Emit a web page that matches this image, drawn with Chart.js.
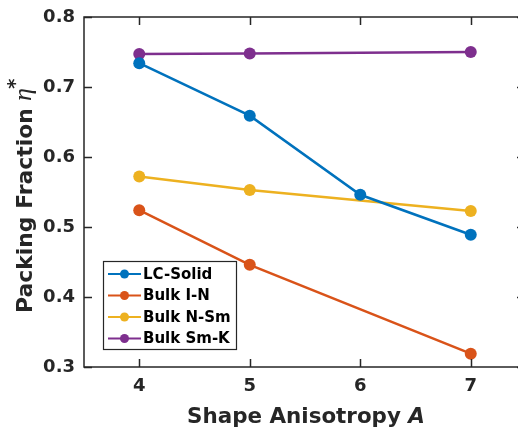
<!DOCTYPE html>
<html>
<head>
<meta charset="utf-8">
<script src="https://cdn.jsdelivr.net/npm/chart.js@4"></script>
<style>
  html, body { margin: 0; padding: 0; background: #fff; overflow: hidden; }
  canvas { display: block; }
</style>
</head>
<body>
<canvas id="packingChart" width="526" height="429"></canvas>
<script>
// values
const seriesNames = ['LC-Solid', 'Bulk I-N', 'Bulk N-Sm', 'Bulk Sm-K'];
const lcSolidX = [4, 5, 6, 7];
const lcSolidY = [0.734, 0.659, 0.546, 0.489];
const bulkINX = [4, 5, 7];
const bulkINY = [0.524, 0.446, 0.319];
const bulkNSmX = [4, 5, 7];
const bulkNSmY = [0.572, 0.553, 0.523];
const bulkSmKX = [4, 5, 7];
const bulkSmKY = [0.747, 0.748, 0.750];
const xTicks = [4, 5, 6, 7];
const yTicks = [0.3, 0.4, 0.5, 0.6, 0.7, 0.8];
const colors = ['#0072BD', '#D95319', '#EDB120', '#7E2F8E'];

const textColor = '#262626';
const sansFont = '"DejaVu Sans"';
const tickFont = { family: 'DejaVu Sans', size: 18, weight: 'bold' };

function toPoints(xs, ys) {
    return xs.map((x, i) => ({ x: x, y: ys[i] }));
}

const seriesData = [
    toPoints(lcSolidX, lcSolidY),
    toPoints(bulkINX, bulkINY),
    toPoints(bulkNSmX, bulkNSmY),
    toPoints(bulkSmKX, bulkSmKY)
];

// pick a font size so the text spans the wanted width
function fitFont(ctx, text, style, width) {
    ctx.font = style + ' 20px ' + sansFont;
    return 20 * width / ctx.measureText(text).width;
}

// box, inward ticks, axis titles and legend
const framePlugin = {
    id: 'frame',
    afterDraw(chart) {
        const ctx = chart.ctx;
        const area = chart.chartArea;
        const xs = chart.scales.x;
        const ys = chart.scales.y;
        ctx.save();
        ctx.strokeStyle = textColor;
        ctx.lineWidth = 1.5;
        ctx.strokeRect(area.left, area.top, area.right - area.left, area.bottom - area.top);
        xTicks.forEach(v => {
            const px = Math.round(xs.getPixelForValue(v)) + 0.5;
            ctx.beginPath();
            ctx.moveTo(px, area.bottom); ctx.lineTo(px, area.bottom - 8);
            ctx.moveTo(px, area.top); ctx.lineTo(px, area.top + 8);
            ctx.stroke();
        });
        yTicks.forEach(v => {
            const py = Math.round(ys.getPixelForValue(v)) + 0.5;
            ctx.beginPath();
            ctx.moveTo(area.left, py); ctx.lineTo(area.left + 8, py);
            ctx.moveTo(area.right, py); ctx.lineTo(area.right - 9, py);
            ctx.stroke();
        });

        // x title
        ctx.fillStyle = textColor;
        ctx.textBaseline = 'alphabetic';
        ctx.textAlign = 'left';
        const xMain = 'Shape Anisotropy ';
        const xSize = fitFont(ctx, xMain + 'A', 'bold', 238);
        ctx.font = 'bold ' + xSize + 'px ' + sansFont;
        const w1 = ctx.measureText(xMain).width;
        ctx.font = 'bold italic ' + xSize + 'px ' + sansFont;
        const w2 = ctx.measureText('A').width;
        const sx = 306 - (w1 + w2) / 2;
        ctx.font = 'bold ' + xSize + 'px ' + sansFont;
        ctx.fillText(xMain, sx, 423);
        ctx.font = 'bold italic ' + xSize + 'px ' + sansFont;
        ctx.fillText('A', sx + w1, 423);

        // y title
        ctx.save();
        ctx.translate(32, 0);
        ctx.rotate(-Math.PI / 2);
        const yMain = 'Packing Fraction';
        const ySize = fitFont(ctx, yMain, 'bold', 205);
        ctx.font = 'bold ' + ySize + 'px ' + sansFont;
        ctx.fillText(yMain, -313, 0);
        ctx.font = 'italic 26px "Liberation Serif"';
        ctx.fillText('\u03B7', -101, -1);
        ctx.font = 'bold 20px ' + sansFont;
        ctx.fillText('*', -89, -11);
        ctx.restore();

        // legend
        const lx = 103, ly = 261, lw = 133, lh = 88;
        ctx.fillStyle = '#fff';
        ctx.fillRect(lx, ly, lw, lh);
        ctx.strokeStyle = textColor;
        ctx.lineWidth = 1.2;
        ctx.strokeRect(lx + 0.5, ly + 0.5, lw, lh);
        chart.data.datasets.forEach((ds, i) => {
            const rowY = ly + 13 + i * 21.5;
            ctx.strokeStyle = ds.borderColor;
            ctx.lineWidth = 2;
            ctx.beginPath();
            ctx.moveTo(lx + 5, rowY); ctx.lineTo(lx + 38, rowY);
            ctx.stroke();
            ctx.fillStyle = ds.backgroundColor;
            ctx.beginPath();
            ctx.arc(lx + 21.5, rowY, 4.5, 0, Math.PI * 2);
            ctx.fill();
            ctx.fillStyle = 'black';
            ctx.font = 'bold 15px ' + sansFont;
            ctx.textAlign = 'left';
            ctx.textBaseline = 'middle';
            ctx.fillText(ds.label, lx + 40, rowY + 1);
        });
        ctx.restore();
    }
};

const ctx = document.getElementById('packingChart').getContext('2d');
new Chart(ctx, {
    type: 'scatter',
    data: {
        datasets: seriesNames.map((name, i) => ({
            label: name,
            data: seriesData[i],
            showLine: true,
            borderColor: colors[i],
            backgroundColor: colors[i],
            borderWidth: 2.5,
            pointRadius: 6,
            pointHoverRadius: 6,
            pointBorderWidth: 0
        }))
    },
    options: {
        responsive: false,
        animation: false,
        layout: { autoPadding: false, padding: { top: 17, right: 0, left: 0, bottom: 0 } },
        plugins: {
            legend: { display: false },
            tooltip: { enabled: false }
        },
        scales: {
            x: {
                type: 'linear',
                min: 3.5,
                max: 7.5,
                afterBuildTicks: scale => { scale.ticks = xTicks.map(v => ({ value: v })); },
                afterFit: scale => {
                    scale.height = 62;
                    scale.paddingLeft = 0;
                    scale.paddingRight = 0;
                },
                grid: { display: false, drawTicks: false },
                border: { display: false },
                ticks: {
                    color: textColor,
                    font: tickFont,
                    padding: 9,
                    maxRotation: 0,
                    callback: v => String(v)
                }
            },
            y: {
                min: 0.3,
                max: 0.8,
                afterBuildTicks: scale => { scale.ticks = yTicks.map(v => ({ value: v })); },
                afterFit: scale => {
                    scale.width = 84;
                    scale.paddingTop = 0;
                    scale.paddingBottom = 0;
                },
                grid: { display: false, drawTicks: false },
                border: { display: false },
                ticks: {
                    color: textColor,
                    font: tickFont,
                    padding: 9,
                    callback: v => v.toFixed(1)
                }
            }
        }
    },
    plugins: [framePlugin]
});
</script>
</body>
</html>
